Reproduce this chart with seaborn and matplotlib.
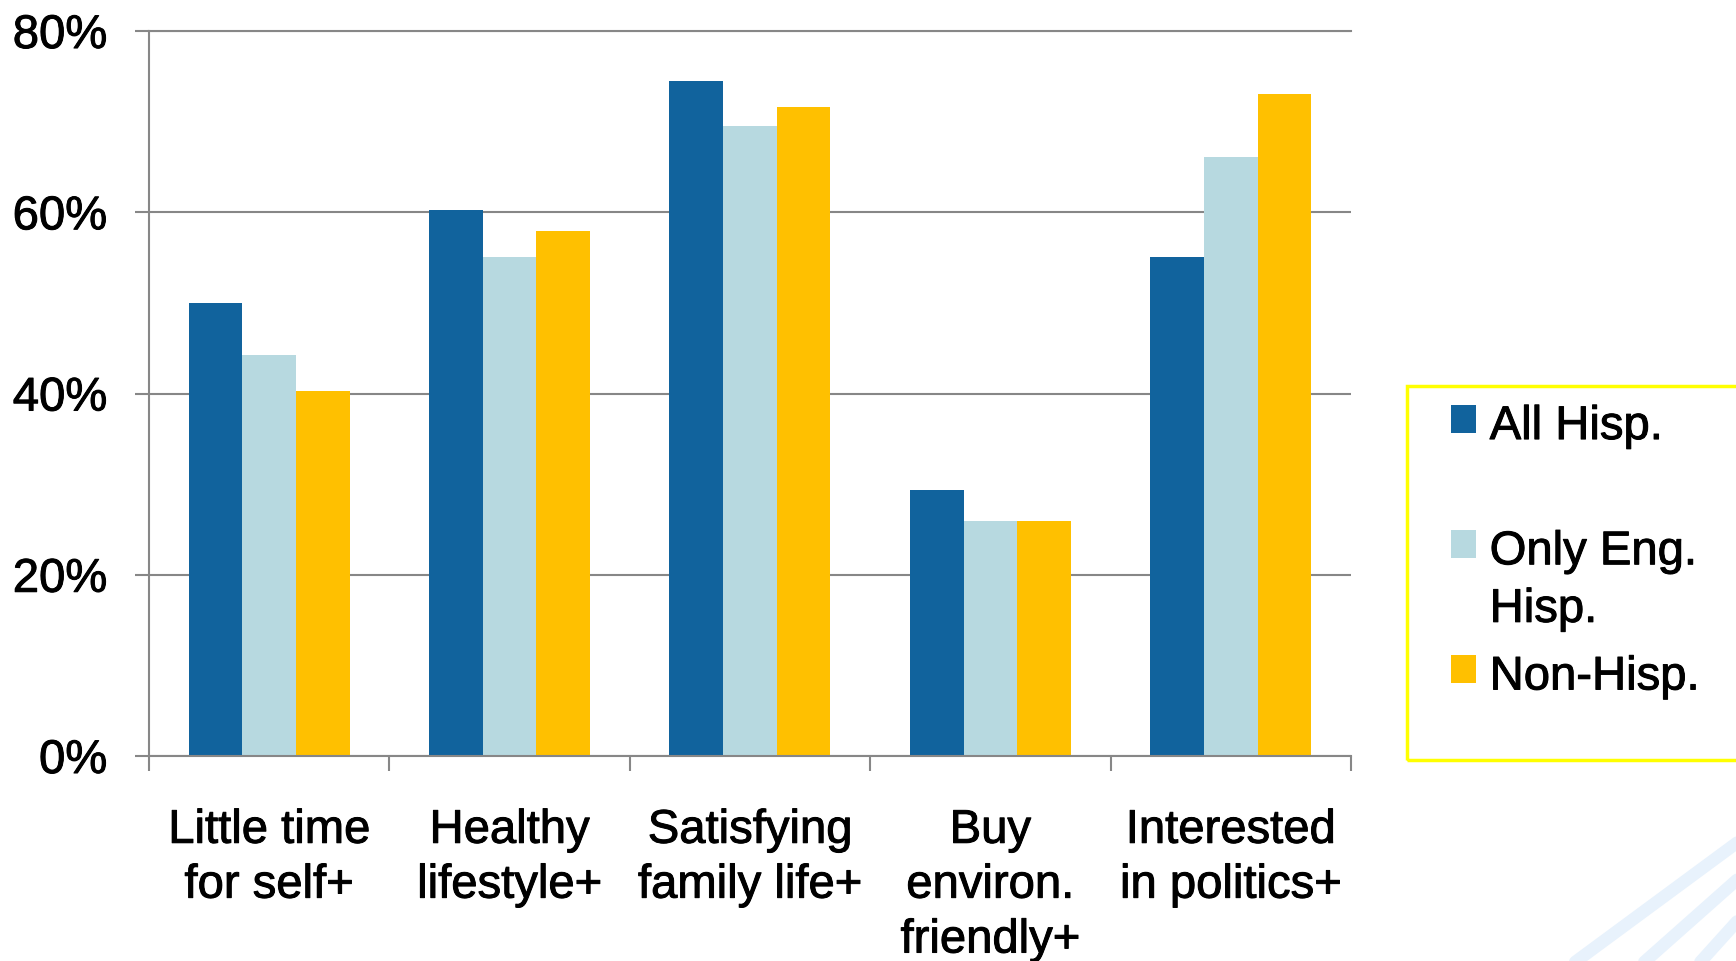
import seaborn as sns
from matplotlib import pyplot as plt
from matplotlib import patheffects
from matplotlib.lines import Line2D
from matplotlib.patches import Rectangle
from matplotlib.ticker import FixedLocator, PercentFormatter
import pandas as pd

categories = ['Little time\nfor self+', 'Healthy\nlifestyle+', 'Satisfying\nfamily life+',
              'Buy\nenviron.\nfriendly+', 'Interested\nin politics+']
groups = ['All Hisp.', 'Only Eng.\nHisp.', 'Non-Hisp.']
all_hisp = [50.0, 60.3, 74.5, 29.3, 55.1]
only_eng_hisp = [44.3, 55.1, 69.5, 25.9, 66.1]
non_hisp = [40.3, 57.9, 71.6, 25.9, 73.0]
colors = ['#11639D', '#B7D9E0', '#FFC000']
y_ticks = [0, 20, 40, 60, 80]

rows = []
for g, vals in zip(groups, [all_hisp, only_eng_hisp, non_hisp]):
    for c, v in zip(categories, vals):
        rows.append((c, g, v))
df = pd.DataFrame(rows, columns=['category', 'group', 'share'])

sns.set_style('white')
plt.rcParams['font.family'] = ['Liberation Sans', 'DejaVu Sans']
plt.rcParams['text.color'] = 'black'
plt.rcParams['xtick.labelcolor'] = 'black'
plt.rcParams['ytick.labelcolor'] = 'black'
grey = '#878787'
fsize = 34
heavy = [patheffects.withStroke(linewidth=0.7, foreground='black')]

fig = plt.figure(figsize=(17.36, 9.61), dpi=100)

# faint decorative stripes in the bottom right corner
for (x0, y0), (x1, y1) in [((0.9044, -0.005), (1.005, 0.129)),
                           ((0.9447, -0.005), (1.005, 0.0916)),
                           ((0.9775, -0.005), (1.005, 0.050))]:
    fig.add_artist(Line2D([x0, x1], [y0, y1], transform=fig.transFigure,
                          color='#E8F2FC', linewidth=9, zorder=0))

ax = fig.add_axes([0.0858, 0.2133, 0.6924, 0.7544])
sns.barplot(data=df, x='category', y='share', hue='group', palette=colors,
            width=0.67, linewidth=0, saturation=1, ax=ax)

ax.set_xlim(-0.5, len(categories) - 0.5)
ax.set_ylim(0, 80)
ax.set_yticks(y_ticks)
ax.yaxis.set_major_formatter(PercentFormatter(decimals=0))
ax.set_xlabel('')
ax.set_ylabel('')
ax.set_axisbelow(True)
ax.grid(axis='y', color=grey, linewidth=1.5)
ax.grid(axis='x', visible=False)
for side in ['left', 'bottom', 'top']:
    ax.spines[side].set_color(grey)
    ax.spines[side].set_linewidth(1.5)
ax.spines['right'].set_visible(False)

ax.xaxis.set_minor_locator(FixedLocator([i - 0.5 for i in range(len(categories) + 1)]))
ax.tick_params(axis='x', which='major', length=0, pad=38, labelsize=fsize)
ax.tick_params(axis='x', which='minor', bottom=True, length=11, width=1.5, color=grey)
ax.tick_params(axis='y', left=True, length=10, width=1.5, color=grey, pad=20, labelsize=fsize)
for t in ax.get_xticklabels():
    t.set_linespacing(1.32)
    t.set_path_effects(heavy)
for t in ax.get_yticklabels():
    t.set_path_effects(heavy)

handles, labels = ax.get_legend_handles_labels()
ax.get_legend().remove()
# first entry padded to two lines so the three entries are spaced like the original
labels[0] = labels[0] + '\n'
leg = fig.legend(handles, labels, loc='upper left', bbox_to_anchor=(0.8358, 0.5785),
                 frameon=False, fontsize=fsize, handlelength=0.52, handleheight=0.52,
                 handletextpad=0.3, labelspacing=0.5, borderpad=0, borderaxespad=0)
for t in leg.get_texts():
    t.set_linespacing(1.4)
    t.set_path_effects(heavy)
for col in leg._legend_handle_box.get_children():
    for row in col.get_children():
        row.align = 'top'

fig.add_artist(Rectangle((0.8105, 0.2092), 0.25, 0.3891, transform=fig.transFigure,
                         fill=False, edgecolor='#FFFF00', linewidth=2.5))

fig.savefig('out.png', dpi=100)
